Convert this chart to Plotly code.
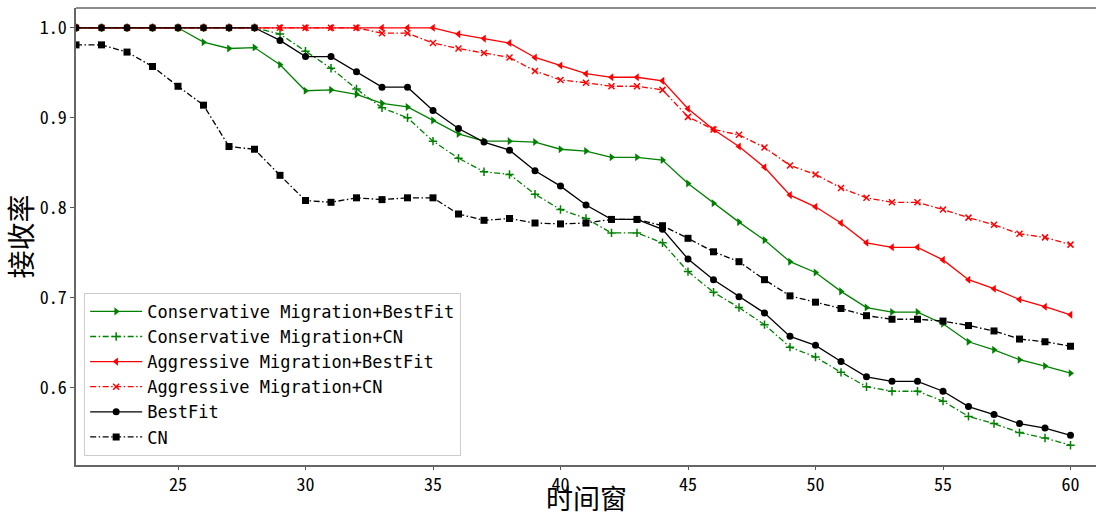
import plotly.graph_objects as go

x_vals = list(range(21, 61))

cons_bestfit = [1.0, 1.0, 1.0, 1.0, 1.0, 0.984, 0.977, 0.978, 0.959, 0.930,
                0.931, 0.926, 0.916, 0.912, 0.897, 0.882, 0.874, 0.874, 0.873, 0.865,
                0.863, 0.856, 0.856, 0.853, 0.827, 0.805, 0.784, 0.764, 0.740, 0.728,
                0.707, 0.689, 0.684, 0.684, 0.671, 0.651, 0.642, 0.631, 0.624, 0.616]
cons_cn = [1.0, 1.0, 1.0, 1.0, 1.0, 1.0, 1.0, 1.0, 0.993, 0.974,
           0.955, 0.932, 0.911, 0.900, 0.874, 0.855, 0.840, 0.837, 0.815, 0.798,
           0.788, 0.772, 0.772, 0.761, 0.729, 0.706, 0.689, 0.670, 0.645, 0.634,
           0.617, 0.601, 0.596, 0.596, 0.585, 0.568, 0.560, 0.550, 0.544, 0.536]
aggr_bestfit = [1.0, 1.0, 1.0, 1.0, 1.0, 1.0, 1.0, 1.0, 1.0, 1.0,
                1.0, 1.0, 1.0, 1.0, 1.0, 0.993, 0.988, 0.983, 0.967, 0.958,
                0.949, 0.945, 0.945, 0.941, 0.910, 0.887, 0.868, 0.845, 0.814, 0.801,
                0.783, 0.761, 0.756, 0.756, 0.742, 0.720, 0.710, 0.698, 0.690, 0.681]
aggr_cn = [1.0, 1.0, 1.0, 1.0, 1.0, 1.0, 1.0, 1.0, 1.0, 1.0,
           1.0, 1.0, 0.994, 0.994, 0.983, 0.977, 0.972, 0.967, 0.952, 0.942,
           0.939, 0.935, 0.935, 0.931, 0.901, 0.887, 0.881, 0.867, 0.847, 0.837,
           0.822, 0.811, 0.806, 0.806, 0.798, 0.789, 0.781, 0.771, 0.767, 0.759]
bestfit = [1.0, 1.0, 1.0, 1.0, 1.0, 1.0, 1.0, 1.0, 0.986, 0.968,
           0.968, 0.951, 0.934, 0.934, 0.908, 0.888, 0.873, 0.864, 0.841, 0.824,
           0.803, 0.787, 0.787, 0.776, 0.743, 0.720, 0.701, 0.683, 0.657, 0.647,
           0.629, 0.612, 0.607, 0.607, 0.596, 0.579, 0.570, 0.560, 0.555, 0.547]
cn = [0.981, 0.981, 0.973, 0.957, 0.935, 0.914, 0.868, 0.865, 0.836, 0.808,
      0.806, 0.811, 0.809, 0.811, 0.811, 0.793, 0.786, 0.788, 0.783, 0.782,
      0.783, 0.787, 0.787, 0.780, 0.766, 0.751, 0.740, 0.720, 0.702, 0.695,
      0.688, 0.680, 0.676, 0.676, 0.674, 0.669, 0.663, 0.654, 0.651, 0.646]

x_ticks = [25, 30, 35, 40, 45, 50, 55, 60]
y_ticks = [0.6, 0.7, 0.8, 0.9, 1.0]
y_tick_text = ["0.6", "0.7", "0.8", "0.9", "1.0"]
x_title = "时间窗"
y_title = "接收率"

DASHDOT = "6px,2.5px,1.5px,2.5px"
MONO = "DejaVu Sans Mono, Liberation Mono, monospace"
TICKF = "Noto Sans Mono CJK SC, Noto Sans CJK SC, DejaVu Sans Mono, monospace"
CJK = "Noto Sans CJK SC, sans-serif"

series = [
    ("Conservative Migration+BestFit", cons_bestfit, "green", "solid", "triangle-right", 7),
    ("Conservative Migration+CN", cons_cn, "green", DASHDOT, "cross-thin", 6),
    ("Aggressive Migration+BestFit", aggr_bestfit, "red", "solid", "triangle-left", 7),
    ("Aggressive Migration+CN", aggr_cn, "red", DASHDOT, "x-thin", 6),
    ("BestFit", bestfit, "black", "solid", "circle", 7),
    ("CN", cn, "black", DASHDOT, "square", 7),
]

fig = go.Figure()
for name, ys, color, dash, sym, size in series:
    fig.add_trace(go.Scatter(
        x=x_vals, y=ys, name=name, mode="lines+markers",
        line=dict(color=color, width=1.3, dash=dash),
        marker=dict(symbol=sym, size=size, color=color,
                    line=dict(color=color, width=1.5 if "thin" in sym else 0)),
    ))

fig.update_layout(
    width=1096, height=519,
    margin=dict(l=76, r=0, t=8, b=54),
    paper_bgcolor="white", plot_bgcolor="white",
    showlegend=True,
    legend=dict(
        x=0.008, y=0.02, xanchor="left", yanchor="bottom",
        bgcolor="rgba(255,255,255,0.8)", bordercolor="#cccccc", borderwidth=1,
        font=dict(family=MONO, size=17, color="black"),
        itemwidth=52, tracegroupgap=0,
    ),
    xaxis=dict(
        range=[21, 61], tickvals=x_ticks, ticks="outside", ticklen=3,
        tickcolor="#555", showline=True, linecolor="#666", linewidth=1.5,
        showgrid=False, zeroline=False,
        tickfont=dict(family=TICKF, size=18, color="black"),
    ),
    yaxis=dict(
        range=[0.514, 1.022], tickvals=y_ticks, ticktext=y_tick_text,
        ticks="outside", ticklen=4, tickcolor="#555",
        showline=True, linecolor="#666", linewidth=1.5,
        showgrid=False, zeroline=False,
        tickfont=dict(family=TICKF, size=18, color="black"),
        title=dict(text=y_title, font=dict(family=CJK, size=28, color="black"), standoff=2),
    ),
)
fig.add_annotation(text=x_title, xref="paper", yref="paper", x=0.5, y=0,
                   yshift=-54, xanchor="center", yanchor="bottom", showarrow=False,
                   font=dict(family=CJK, size=27, color="black"))
# top spine
fig.add_shape(type="line", xref="paper", yref="paper", x0=0, x1=1, y0=1, y1=1,
              line=dict(color="#666", width=1.5))

fig.write_html("out.html")
